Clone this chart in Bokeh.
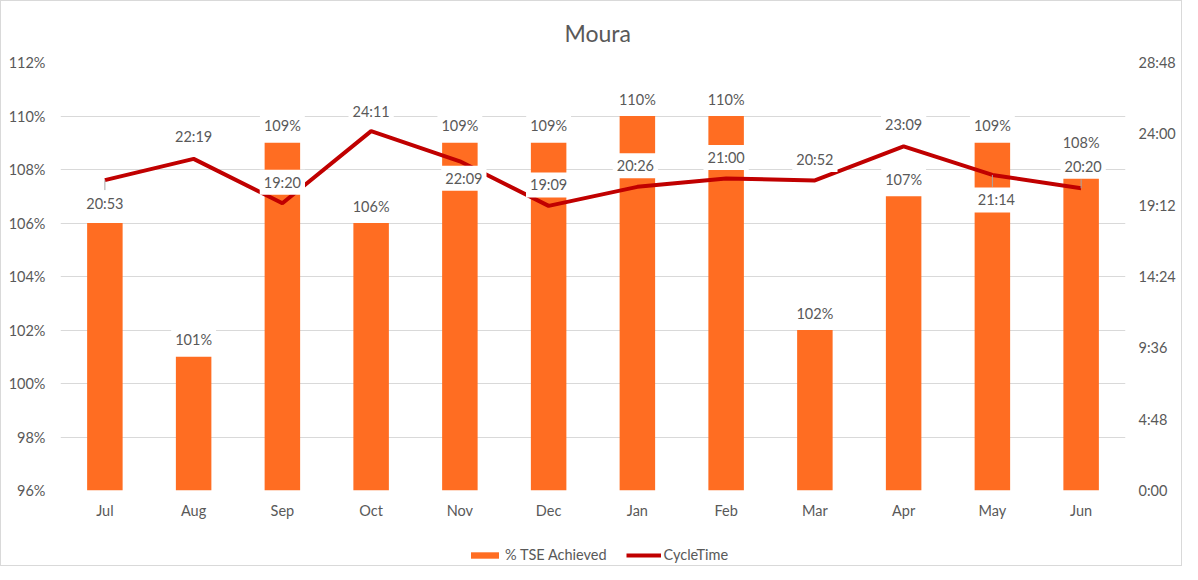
from bokeh.plotting import figure
from bokeh.layouts import column
from bokeh.models import (ColumnDataSource, Range1d, FactorRange, LinearAxis, FixedTicker,
                          CustomJSTickFormatter, Legend, LegendItem)
from bokeh.core.properties import value
from bokeh.embed import file_html
from bokeh.resources import INLINE

# ---------------- data ----------------
months = ["Jul", "Aug", "Sep", "Oct", "Nov", "Dec", "Jan", "Feb", "Mar", "Apr", "May", "Jun"]
tse_pct = [106, 101, 109, 106, 109, 109, 110, 110, 102, 107, 109, 108]
cycle_time = ["20:53", "22:19", "19:20", "24:11", "22:09", "19:09",
              "20:26", "21:00", "20:52", "23:09", "21:14", "20:20"]
pct_ticks = [96, 98, 100, 102, 104, 106, 108, 110, 112]
ct_ticks = [0, 288, 576, 864, 1152, 1440, 1728]   # 0:00 ... 28:48

# ---------------- label placement (screen px, + = down) ----------------
pct_label_dy = [-17, -17, -17, -17, -17, -17, -17, -17, -17, -17, -17, -27]
ct_label_dx = [0, 0, 0, 0, 4, 0, -2, 0, 0, 0, 4, 2]
ct_label_dy = [23, -22, -21, -20, 17, -21, -21, -21, -21, -22, 25, -22]
leader_px = [10, 0, 0, 0, 0, 0, 0, 0, 0, 0, 12, -9]

ORANGE = "#FF6D22"
RED = "#C00000"
GRAY = "#595959"
GRID = "#D9D9D9"
LEADER = "#A6A6A6"
FONT = "Lato"

CT_MAX = 1728
FRAME_H = 430

ct_min = [int(s.split(":")[0]) * 60 + int(s.split(":")[1]) for s in cycle_time]

src = ColumnDataSource(dict(
    month=months, pct=tse_pct, pct_label=[f"{v}%" for v in tse_pct], pct_dy=pct_label_dy,
    ct=ct_min, ct_label=cycle_time, ct_dx=ct_label_dx, ct_dy=ct_label_dy,
))
lead_idx = [i for i, d in enumerate(leader_px) if d != 0]
lead_src = ColumnDataSource(dict(
    month=[months[i] for i in lead_idx],
    y0=[ct_min[i] for i in lead_idx],
    y1=[ct_min[i] - leader_px[i] * CT_MAX / FRAME_H for i in lead_idx],
))

p = figure(width=1180, height=520,
           x_range=FactorRange(*months, range_padding=0),
           y_range=Range1d(96, 112),
           output_backend="svg", toolbar_location=None,
           min_border_left=59, min_border_right=56, min_border_top=60, min_border_bottom=30,
           title="Moura")
p.outline_line_color = None
p.background_fill_color = "white"
p.border_fill_color = "white"

p.title.align = "left"
p.title.offset = 504
p.title.standoff = 31
p.title.text_font = FONT
p.title.text_font_size = "23px"
p.title.text_font_style = "normal"
p.title.text_color = GRAY

p.extra_y_ranges = {"ct": Range1d(0, CT_MAX)}

# axes
p.yaxis.ticker = FixedTicker(ticks=pct_ticks)
p.yaxis.formatter = CustomJSTickFormatter(code="return tick.toFixed(0) + '%';")
right = LinearAxis(y_range_name="ct", ticker=FixedTicker(ticks=ct_ticks),
                   formatter=CustomJSTickFormatter(code="""
                       const h = Math.floor(tick / 60);
                       const m = Math.round(tick - h * 60);
                       return h + ':' + (m < 10 ? '0' : '') + m;"""))
p.add_layout(right, "right")

for ax in [p.yaxis[0], right, p.xaxis[0]]:
    ax.axis_line_color = None
    ax.major_tick_line_color = None
    ax.minor_tick_line_color = None
    ax.major_tick_out = 0
    ax.minor_tick_out = 0
    ax.major_label_text_font = FONT
    ax.major_label_text_font_size = "14.5px"
    ax.major_label_text_color = GRAY
p.yaxis[0].major_label_standoff = 15
right.major_label_standoff = 13
p.xaxis[0].major_label_standoff = 11

p.xgrid.grid_line_color = None
p.ygrid.ticker = FixedTicker(ticks=pct_ticks)
p.ygrid.grid_line_color = GRID
p.ygrid.grid_line_width = 1

# glyphs
bars = p.vbar(x="month", top="pct", bottom=96, width=0.4, fill_color=ORANGE,
              line_color=None, source=src)
line = p.line(x="month", y="ct", y_range_name="ct", line_color=RED, line_width=4,
              source=src)
p.segment(x0="month", y0="y0", x1="month", y1="y1", y_range_name="ct",
          line_color=LEADER, line_width=1, source=lead_src)

p.text(x="month", y="pct", text="pct_label", y_offset="pct_dy", source=src,
       text_align="center", text_baseline="middle", text_font=value(FONT),
       text_font_size="14.5px", text_color=GRAY,
       background_fill_color="white", padding=4)
p.text(x="month", y="ct", y_range_name="ct", text="ct_label", x_offset="ct_dx",
       y_offset="ct_dy", source=src,
       text_align="center", text_baseline="middle", text_font=value(FONT),
       text_font_size="14.5px", text_color=GRAY,
       background_fill_color="white", padding=4)

# ---------------- legend strip below the chart ----------------
# hidden copies of the two series, used only to give the legend its swatches
leg = figure(width=1180, height=44, x_range=p.x_range, y_range=Range1d(0, 1),
             x_axis_type=None, y_axis_type=None, output_backend="svg",
             toolbar_location=None, min_border=0)
leg.outline_line_color = None
leg.grid.visible = False
leg.extra_y_ranges = {"ct": Range1d(0, 1)}
leg_bar = leg.vbar(x="month", top="pct", bottom=96, width=0.4, fill_color=ORANGE,
                   line_color=None, source=src, visible=False)
leg_line = leg.line(x="month", y="ct", y_range_name="ct", line_color=RED, line_width=4,
                    source=src, visible=False)
legend = Legend(items=[LegendItem(label="% TSE Achieved", renderers=[leg_bar]),
                       LegendItem(label="CycleTime", renderers=[leg_line])],
                orientation="horizontal", location=(407, 2),
                padding=0, margin=0, spacing=19, label_standoff=3,
                glyph_width=35, glyph_height=8,
                border_line_color=None, background_fill_alpha=0,
                inactive_fill_alpha=0,
                label_text_font=FONT, label_text_font_size="14.5px",
                label_text_color=GRAY)
leg.add_layout(legend)

layout = column(p, leg, spacing=0, styles={"border": "1px solid #D9D9D9"})

open("out.html", "w").write(file_html(layout, INLINE))
